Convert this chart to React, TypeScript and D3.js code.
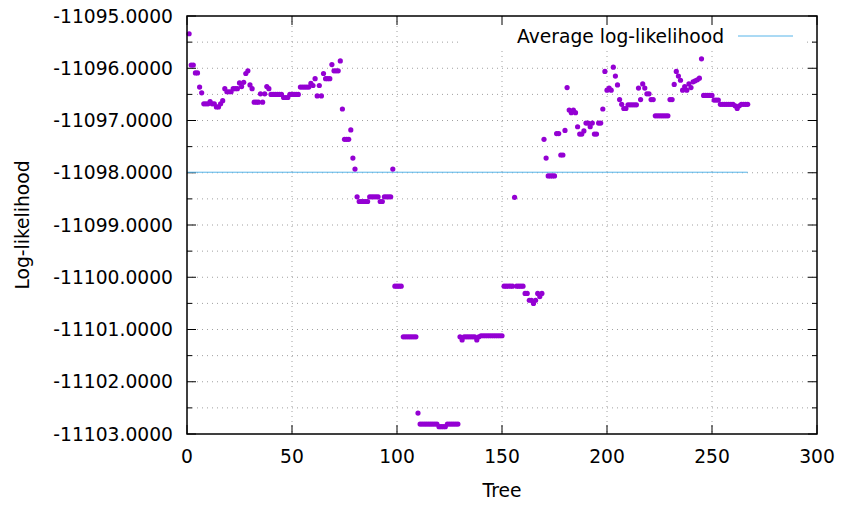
import * as d3 from "d3";
import React from "react";

const width = 842;
const height = 505;
const margin = { top: 16, right: 25, bottom: 71, left: 187 };

// log-likelihood per tree (trees start at 1)
const logLikelihood = [
  -11095.34, -11095.94, -11095.94, -11096.09, -11096.09, -11096.36, -11096.47, -11096.68, -11096.68, -11096.68,
  -11096.64, -11096.68, -11096.68, -11096.74, -11096.74, -11096.68, -11096.62, -11096.39, -11096.45, -11096.45,
  -11096.45, -11096.39, -11096.39, -11096.39, -11096.28, -11096.35, -11096.27, -11096.1, -11096.05, -11096.32,
  -11096.39, -11096.65, -11096.65, -11096.65, -11096.49, -11096.65, -11096.49, -11096.35, -11096.39, -11096.5,
  -11096.5, -11096.5, -11096.5, -11096.5, -11096.5, -11096.56, -11096.56, -11096.56, -11096.5, -11096.5,
  -11096.5, -11096.5, -11096.5, -11096.36, -11096.36, -11096.36, -11096.36, -11096.36, -11096.29, -11096.33,
  -11096.2, -11096.53, -11096.33, -11096.53, -11096.1, -11096.2, -11096.2, -11096.2, -11095.93, -11096.05,
  -11096.05, -11096.05, -11095.86, -11096.78, -11097.36, -11097.36, -11097.36, -11097.18, -11097.72, -11097.93,
  -11098.46, -11098.55, -11098.55, -11098.55, -11098.55, -11098.55, -11098.46, -11098.46, -11098.46, -11098.46,
  -11098.46, -11098.55, -11098.55, -11098.46, -11098.46, -11098.46, -11098.46, -11097.93, -11100.17, -11100.17,
  -11100.17, -11100.17, -11101.14, -11101.14, -11101.14, -11101.14, -11101.14, -11101.14, -11101.14, -11102.6,
  -11102.81, -11102.81, -11102.81, -11102.81, -11102.81, -11102.81, -11102.81, -11102.81, -11102.81, -11102.86,
  -11102.86, -11102.86, -11102.86, -11102.81, -11102.81, -11102.81, -11102.81, -11102.81, -11102.81, -11101.14,
  -11101.2, -11101.14, -11101.14, -11101.14, -11101.14, -11101.14, -11101.14, -11101.2, -11101.14, -11101.12,
  -11101.12, -11101.12, -11101.12, -11101.12, -11101.12, -11101.12, -11101.12, -11101.12, -11101.12, -11101.12,
  -11100.17, -11100.17, -11100.17, -11100.17, -11100.17, -11098.47, -11100.17, -11100.17, -11100.17, -11100.17,
  -11100.31, -11100.31, -11100.44, -11100.44, -11100.5, -11100.44, -11100.31, -11100.37, -11100.31, -11097.36,
  -11097.72, -11098.06, -11098.06, -11098.06, -11098.06, -11097.25, -11097.25, -11097.66, -11097.66, -11097.19,
  -11096.37, -11096.8, -11096.85, -11096.8, -11096.85, -11097.12, -11097.26, -11097.26, -11097.2, -11097.05,
  -11097.05, -11097.12, -11097.05, -11097.26, -11097.26, -11097.05, -11097.05, -11096.78, -11096.06, -11096.42,
  -11096.38, -11096.42, -11095.98, -11096.15, -11096.32, -11096.6, -11096.69, -11096.77, -11096.77, -11096.7,
  -11096.7, -11096.7, -11096.7, -11096.7, -11096.38, -11096.6, -11096.3, -11096.38, -11096.49, -11096.49,
  -11096.6, -11096.6, -11096.91, -11096.91, -11096.91, -11096.91, -11096.91, -11096.91, -11096.91, -11096.6,
  -11096.6, -11096.31, -11096.06, -11096.15, -11096.23, -11096.42, -11096.35, -11096.42, -11096.3, -11096.37,
  -11096.26, -11096.24, -11096.22, -11096.19, -11095.82, -11096.52, -11096.52, -11096.52, -11096.52, -11096.52,
  -11096.61, -11096.61, -11096.61, -11096.69, -11096.69, -11096.69, -11096.69, -11096.69, -11096.69, -11096.69,
  -11096.72, -11096.77, -11096.72, -11096.69, -11096.69, -11096.69, -11096.69,
];
const trees = logLikelihood.map((_, i) => i + 1);

// average line
const averageLogLikelihood = -11097.99;
const averageRange = [0, 267];

const xTicks = [0, 50, 100, 150, 200, 250, 300];
const yTicks = [-11103, -11102, -11101, -11100, -11099, -11098, -11097, -11096, -11095];
const yMinorTicks = [-11102.5, -11101.5, -11100.5, -11099.5, -11098.5, -11097.5, -11096.5, -11095.5];

const font = "'DejaVu Sans', sans-serif";
const fontSize = 18.7;

const App = () => {
  const left = margin.left;
  const right = width - margin.right;
  const top = margin.top;
  const bottom = height - margin.bottom;

  const xScale = d3.scaleLinear().domain([0, 300]).range([left, right]);
  const yScale = d3.scaleLinear().domain([-11103, -11095]).range([bottom, top]);
  // gnuplot prints a plain hyphen for the minus sign
  const fmt = (v: number) => v.toFixed(4);

  const avgLine = d3
    .line<number>()
    .x((d) => xScale(d))
    .y(() => yScale(averageLogLikelihood));

  const gridColor = "#a0a0a0";

  return (
    <svg
      width={width}
      height={height}
      style={{ position: "absolute", left: 0, top: 0, background: "#fff" }}
      fontFamily={font}
      fontSize={fontSize}
    >
      {/* grid */}
      <g stroke={gridColor} strokeWidth={1} strokeDasharray="1 4">
        {[...yTicks, ...yMinorTicks]
          .filter((v) => v > -11103 && v < -11095)
          .map((v) => (
            <line key={"gy" + v} x1={left} x2={right} y1={yScale(v)} y2={yScale(v)} />
          ))}
        {xTicks
          .filter((v) => v > 0 && v < 300)
          .map((v) => (
            <line key={"gx" + v} x1={xScale(v)} x2={xScale(v)} y1={top} y2={bottom} />
          ))}
      </g>

      {/* key background */}
      <rect x={460} y={top + 1} width={343} height={32} fill="#fff" />

      {/* ticks */}
      <g stroke="#000" strokeWidth={1}>
        {yTicks.map((v) => (
          <g key={"ty" + v}>
            <line x1={left} x2={left + 9} y1={yScale(v)} y2={yScale(v)} />
            <line x1={right} x2={right - 9} y1={yScale(v)} y2={yScale(v)} />
          </g>
        ))}
        {yMinorTicks.map((v) => (
          <g key={"tm" + v}>
            <line x1={left} x2={left + 5} y1={yScale(v)} y2={yScale(v)} />
            <line x1={right} x2={right - 5} y1={yScale(v)} y2={yScale(v)} />
          </g>
        ))}
        {xTicks.map((v) => (
          <g key={"tx" + v}>
            <line x1={xScale(v)} x2={xScale(v)} y1={bottom} y2={bottom - 9} />
            <line x1={xScale(v)} x2={xScale(v)} y1={top} y2={top + 9} />
          </g>
        ))}
      </g>

      {/* average line */}
      <path d={avgLine(averageRange) || ""} stroke="#56b4e9" strokeWidth={1} fill="none" />

      {/* points */}
      <g fill="#9400d3">
        {logLikelihood.map((v, i) => (
          <circle key={i} cx={xScale(trees[i])} cy={yScale(v)} r={2.6} />
        ))}
      </g>

      {/* border */}
      <rect x={left} y={top} width={right - left} height={bottom - top} fill="none" stroke="#000" strokeWidth={1.5} />

      {/* tick labels */}
      <g fill="#000">
        {yTicks.map((v) => (
          <text key={"ly" + v} x={left - 14} y={yScale(v)} dy="0.35em" textAnchor="end">
            {fmt(v)}
          </text>
        ))}
        {xTicks.map((v) => (
          <text key={"lx" + v} x={xScale(v)} y={bottom + 22} dy="0.35em" textAnchor="middle">
            {v}
          </text>
        ))}
        <text x={(left + right) / 2} y={490} dy="0.35em" textAnchor="middle">
          Tree
        </text>
        <text transform={`translate(22, ${(top + bottom) / 2}) rotate(-90)`} dy="0.35em" textAnchor="middle">
          Log-likelihood
        </text>
      </g>

      {/* key */}
      <text x={724} y={36} dy="0.35em" textAnchor="end">
        Average log-likelihood
      </text>
      <line x1={738} x2={793} y1={36} y2={36} stroke="#56b4e9" strokeWidth={1} />
    </svg>
  );
};

export default App;
